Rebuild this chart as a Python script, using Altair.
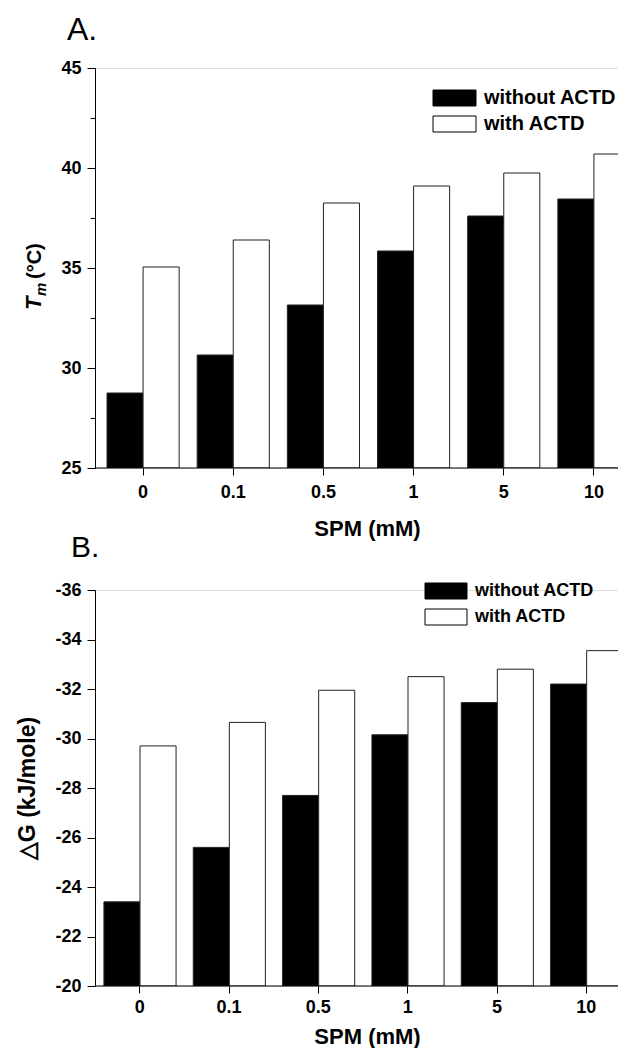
import altair as alt
import pandas as pd

FONT = "Liberation Sans"

CATEGORIES = ["0", "0.1", "0.5", "1", "5", "10"]
SERIES = ["without ACTD", "with ACTD"]

TM_WITHOUT = [28.75, 30.65, 33.15, 35.85, 37.6, 38.45]
TM_WITH = [35.05, 36.4, 38.25, 39.1, 39.75, 40.7]
DG_WITHOUT = [-23.4, -25.6, -27.7, -30.15, -31.45, -32.2]
DG_WITH = [-29.7, -30.65, -31.95, -32.5, -32.8, -33.55]

TM_TICKS = [25, 27.5, 30, 32.5, 35, 37.5, 40, 42.5, 45]
DG_TICKS = [-36, -35, -34, -33, -32, -31, -30, -29, -28, -27, -26, -25, -24, -23, -22, -21, -20]

PANEL_LABELS = ["A.", "B."]
TM_TITLE_PARTS = ["T", "m", "(°C)"]
DG_TITLE = "△G (kJ/mole)"
X_TITLE = "SPM (mM)"

W = 532


def make_df(without, with_, base):
    return pd.DataFrame({
        "SPM": CATEGORIES * 2,
        "series": [SERIES[0]] * len(CATEGORIES) + [SERIES[1]] * len(CATEGORIES),
        "value": list(without) + list(with_),
        "base": [base] * (2 * len(CATEGORIES)),
    })


def x_axis(label_pad, title_pad):
    return alt.Axis(
        title=X_TITLE, labelAngle=0, domain=False, tickSize=7, tickColor="black",
        labelFont=FONT, labelFontSize=18, labelFontWeight="bold", labelColor="black",
        labelPadding=label_pad, titleFont=FONT, titleFontSize=22, titleFontWeight="bold",
        titleColor="black", titlePadding=title_pad, titleX=272,
    )


def legend(lx, ly, font_size, box_w, gap):
    half = (box_w / 2.0) / 8.0
    return alt.Legend(
        title=None, orient="none", legendX=lx + box_w / 2.0 - 8, legendY=ly,
        symbolType=f"M-{half:.4f},-1H{half:.4f}V1H-{half:.4f}Z",
        symbolSize=256, symbolStrokeColor="black", symbolStrokeWidth=1,
        symbolOffset=0, labelOffset=box_w / 2.0 - 8 + gap,
        labelFont=FONT, labelFontSize=font_size, labelFontWeight="bold",
        labelColor="black", rowPadding=6, padding=0,
    )


def bars(df, xrange, y_enc, leg, label_pad, title_pad):
    return alt.Chart(df).mark_bar(clip=True, stroke="#222222", strokeWidth=1).encode(
        x=alt.X("SPM:N", sort=CATEGORIES,
                scale=alt.Scale(range=xrange, paddingInner=0.2, paddingOuter=0.1),
                axis=x_axis(label_pad, title_pad)),
        xOffset=alt.XOffset("series:N", sort=SERIES,
                            scale=alt.Scale(paddingInner=0, paddingOuter=0)),
        y=y_enc,
        y2=alt.Y2("base:Q"),
        fill=alt.Fill("series:N", sort=SERIES,
                      scale=alt.Scale(domain=SERIES, range=["black", "white"]),
                      legend=leg),
    )


def axis_line(base):
    return alt.Chart(pd.DataFrame({"b": [base]})).mark_rule(color="black", strokeWidth=1).encode(
        y=alt.Y("b:Q"), x=alt.value(0), x2=alt.value(W)
    )


def label_text(s, size, x, y, style="normal", angle=0):
    return alt.Chart(pd.DataFrame({"s": [s]})).mark_text(
        angle=angle, align="left", baseline="alphabetic", font=FONT, fontSize=size,
        fontStyle=style, fontWeight="bold" if angle else "normal", color="black"
    ).encode(text="s:N", x=alt.value(x), y=alt.value(y))


df_a = make_df(TM_WITHOUT, TM_WITH, 25)
df_b = make_df(DG_WITHOUT, DG_WITH, -20)

y_a = alt.Y("value:Q", scale=alt.Scale(domain=[25, 45], zero=False, nice=False),
            axis=alt.Axis(
                values=TM_TICKS, title=None, grid=False,
                labelExpr="datum.value % 5 === 0 ? '' + datum.value : ''",
                tickSize={"condition": {"test": "datum.value % 5 === 0", "value": 8}, "value": 5},
                tickColor="black", domainColor="black",
                labelFont=FONT, labelFontSize=18, labelFontWeight="bold", labelColor="black",
                labelPadding=6,
            ))

y_b = alt.Y("value:Q", scale=alt.Scale(domain=[-36, -20], reverse=True, zero=False, nice=False),
            axis=alt.Axis(
                values=DG_TICKS, title=DG_TITLE, grid=False,
                labelExpr="datum.value % 2 === 0 ? '' + datum.value : ''",
                tickSize={"condition": {"test": "datum.value % 2 === 0", "value": 8}, "value": 5},
                tickColor="black", domainColor="black",
                labelFont=FONT, labelFontSize=18, labelFontWeight="bold", labelColor="black",
                labelPadding=6, titleFont=FONT, titleFontSize=23, titleFontWeight="bold",
                titleColor="black", titlePadding=15,
            ))

chart_a = alt.layer(
    bars(df_a, [3, 544], y_a, legend(336, 20, 20, 43, 6), 8, 17),
    axis_line(25),
    label_text(TM_TITLE_PARTS[0], 22, -54, 242, style="italic", angle=270),
    label_text(TM_TITLE_PARTS[1], 15, -49, 228, style="italic", angle=270),
    label_text(TM_TITLE_PARTS[2], 20, -54, 211, angle=270),
    label_text(PANEL_LABELS[0], 32, -28, -28),
).properties(width=W, height=400)

chart_b = alt.layer(
    bars(df_b, [0, 536], y_b, legend(329, -8, 18, 42, 7), 5, 10),
    axis_line(-20),
    label_text(PANEL_LABELS[1], 30, -24, -33),
).properties(width=W, height=396)

chart = alt.vconcat(chart_a, chart_b, spacing=-8).resolve_scale(
    fill="independent"
).properties(
    padding={"left": 8, "top": 5, "right": -19, "bottom": 0}
).configure_view(stroke=None).configure(background="white")

chart.save("out.html", embed_options={"renderer": "svg", "actions": False})
